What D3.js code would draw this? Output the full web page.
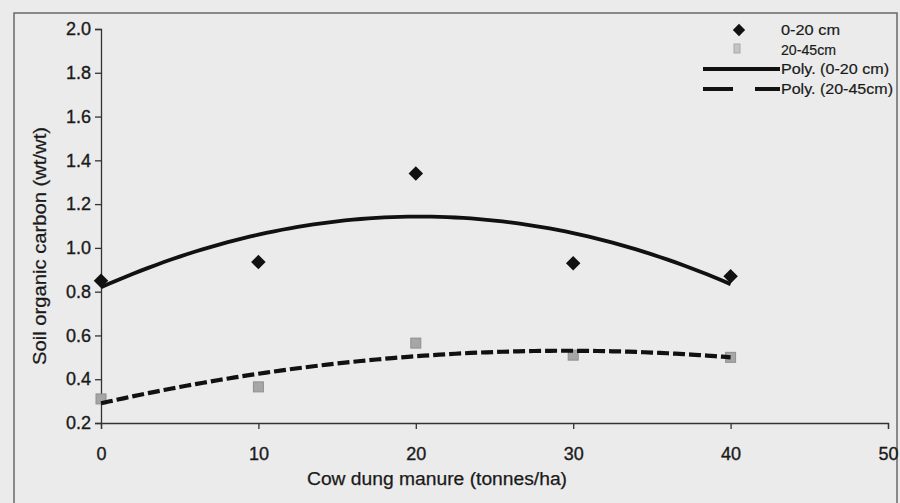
<!DOCTYPE html>
<html><head><meta charset="utf-8">
<script src="https://cdn.jsdelivr.net/npm/d3@7"></script>
<style>html,body{margin:0;padding:0;background:#ebebeb;overflow:hidden}</style>
</head><body>
<svg id="c" width="900" height="503"></svg>
<script>
// ---- data ----
const doses = [0, 10, 20, 30, 40];                 // Cow dung manure (tonnes/ha)
const topsoil = [0.85, 0.935, 1.34, 0.93, 0.87];    // 0-20 cm
const subsoil = [0.31, 0.365, 0.565, 0.51, 0.50];   // 20-45cm
const xTicks = [0, 10, 20, 30, 40, 50];
const yTicks = [0.2, 0.4, 0.6, 0.8, 1.0, 1.2, 1.4, 1.6, 1.8, 2.0];
const legendNames = ["0-20 cm", "20-45cm", "Poly. (0-20 cm)", "Poly. (20-45cm)"];
const xTitle = "Cow dung manure (tonnes/ha)";
const yTitle = "Soil organic carbon (wt/wt)";

// ---- quadratic least-squares trendline (Excel "Poly." order 2) ----
function polyFit(xs, ys) {
  const S = k => d3.sum(xs, x => Math.pow(x, k));
  const T = k => d3.sum(xs, (x, i) => Math.pow(x, k) * ys[i]);
  const A = [[S(0), S(1), S(2)], [S(1), S(2), S(3)], [S(2), S(3), S(4)]];
  const b = [T(0), T(1), T(2)];
  for (let i = 0; i < 3; i++) {
    for (let j = i + 1; j < 3; j++) {
      const f = A[j][i] / A[i][i];
      for (let k = i; k < 3; k++) A[j][k] -= f * A[i][k];
      b[j] -= f * b[i];
    }
  }
  const c = [0, 0, 0];
  for (let i = 2; i >= 0; i--) {
    let s = b[i];
    for (let k = i + 1; k < 3; k++) s -= A[i][k] * c[k];
    c[i] = s / A[i][i];
  }
  return x => c[0] + c[1] * x + c[2] * x * x;
}

const svg = d3.select("#c");
const font = "'Liberation Sans', Arial, sans-serif";
const ink = "#1a1a1a";

// chart area frame
svg.append("path").attr("d", "M14,520 L14,13 L897,13 L897,520")
  .attr("fill", "none").attr("stroke", "#6a6a6a").attr("stroke-width", 1.5);

const x = d3.scaleLinear().domain([0, 50]).range([101, 888]);
const y = d3.scaleLinear().domain([0.2, 2.0]).range([423, 29]);

// axes
const gy = svg.append("g").attr("transform", `translate(${x(0)},0)`)
  .call(d3.axisLeft(y).tickValues(yTicks).tickFormat(d3.format(".1f")).tickSize(6).tickPadding(4));
const gx = svg.append("g").attr("transform", `translate(0,${y(0.2)})`)
  .call(d3.axisBottom(x).tickValues(xTicks).tickFormat(d3.format("d")).tickSize(6).tickPadding(18));
[gx, gy].forEach(g => {
  g.select(".domain").attr("stroke", "#333").attr("stroke-width", 1.3);
  g.selectAll(".tick line").attr("stroke", "#333").attr("stroke-width", 1.3);
  g.selectAll(".tick text").attr("font-family", font).attr("font-size", 18)
    .attr("fill", ink).attr("stroke", ink).attr("stroke-width", 0.35);
});

// axis titles
svg.append("text").attr("x", 437).attr("y", 485).attr("text-anchor", "middle")
  .attr("font-family", font).attr("font-size", 17.5).attr("fill", ink)
  .attr("stroke", ink).attr("stroke-width", 0.25)
  .attr("textLength", 260).attr("lengthAdjust", "spacingAndGlyphs").text(xTitle);
svg.append("text").attr("transform", "translate(46,246) rotate(-90)").attr("text-anchor", "middle")
  .attr("font-family", font).attr("font-size", 17.5).attr("fill", ink)
  .attr("stroke", ink).attr("stroke-width", 0.25)
  .attr("textLength", 238).attr("lengthAdjust", "spacingAndGlyphs").text(yTitle);

// markers: 20-45cm squares
svg.append("g").selectAll("rect").data(doses).join("rect")
  .attr("x", (d, i) => x(d) - 5).attr("y", (d, i) => y(subsoil[i]) - 5)
  .attr("width", 10).attr("height", 10)
  .attr("fill", "#a6a6a6").attr("stroke", "#8f8f8f").attr("stroke-width", 1);

// trendlines
const fTop = polyFit(doses, topsoil);
const fSub = polyFit(doses, subsoil);
const xs = d3.range(0, 40.01, 0.5);
const line = d3.line().x(d => x(d[0])).y(d => y(d[1]));
svg.append("path").datum(xs.map(v => [v, fSub(v)])).attr("d", line)
  .attr("fill", "none").attr("stroke", "#111").attr("stroke-width", 4.2)
  .attr("stroke-dasharray", "12,4");
svg.append("path").datum(xs.map(v => [v, fTop(v)])).attr("d", line)
  .attr("fill", "none").attr("stroke", "#111").attr("stroke-width", 3.8);

// markers: 0-20 cm diamonds
const diamond = d3.symbol().type(d3.symbolSquare).size(105);
svg.append("g").selectAll("path").data(doses).join("path")
  .attr("d", diamond)
  .attr("transform", (d, i) => `translate(${x(d)},${y(topsoil[i])}) rotate(45)`)
  .attr("fill", "#111");

// legend
const lg = svg.append("g");
lg.append("path").attr("d", diamond).attr("transform", "translate(739,30) rotate(45) scale(0.85)").attr("fill", "#111");
lg.append("rect").attr("x", 734).attr("y", 44).attr("width", 6).attr("height", 9)
  .attr("fill", "#c4c4c4").attr("stroke", "#a8a8a8");
lg.append("line").attr("x1", 703).attr("x2", 780).attr("y1", 69).attr("y2", 69)
  .attr("stroke", "#111").attr("stroke-width", 4);
lg.append("line").attr("x1", 703).attr("x2", 780).attr("y1", 89).attr("y2", 89)
  .attr("stroke", "#111").attr("stroke-width", 4).attr("stroke-dasharray", "30,22");
const lgY = [35, 55, 74, 94];
const lgW = [59, 55, 108, 112];
lg.selectAll("text").data(legendNames).join("text")
  .attr("x", 781).attr("y", (d, i) => lgY[i])
  .attr("font-family", font).attr("font-size", 15).attr("fill", ink)
  .attr("stroke", ink).attr("stroke-width", 0.2)
  .attr("textLength", (d, i) => lgW[i]).attr("lengthAdjust", "spacingAndGlyphs")
  .text(d => d);
</script>
</body></html>
